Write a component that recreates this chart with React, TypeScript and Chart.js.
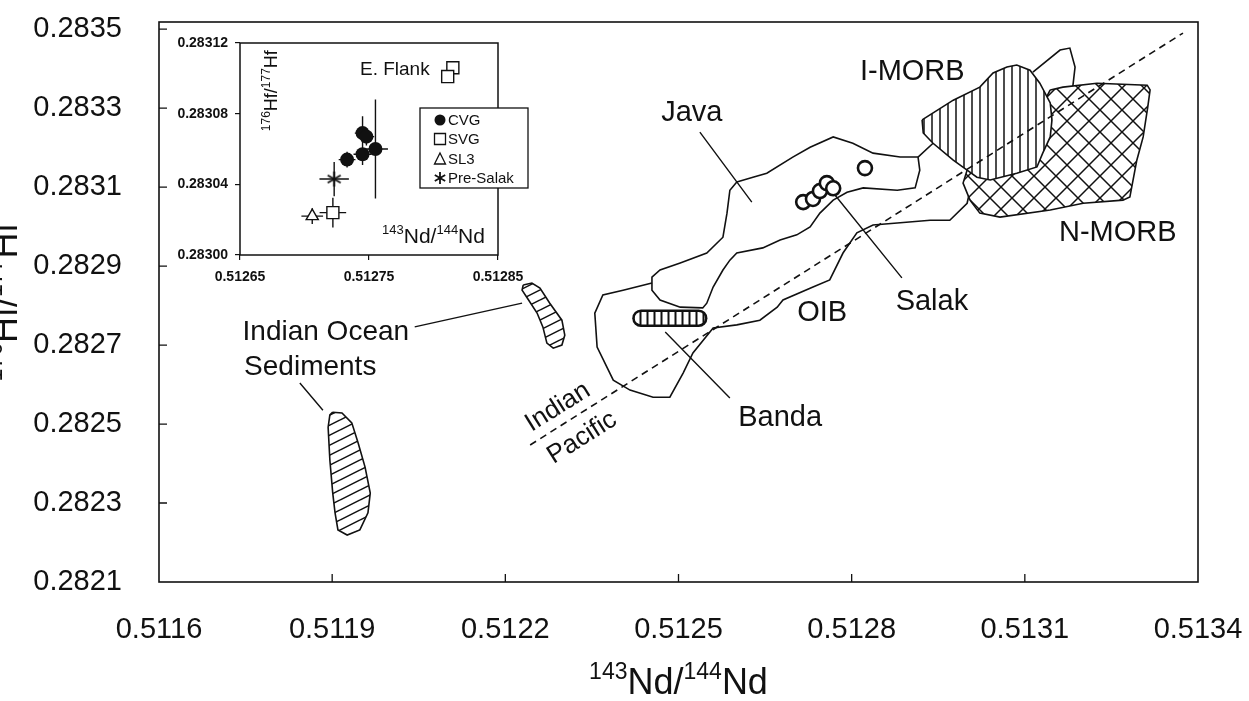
import { useEffect, useRef } from 'react';
import { Chart, registerables } from 'chart.js';

Chart.register(...registerables);

const FONT = '"Liberation Sans", Arial, Helvetica, sans-serif';
const INK = '#111111';

// ---------- main axes ----------
const X_MIN = 0.5116;
const X_MAX = 0.5134;
const Y_MIN = 0.2821;
const Y_MAX = 0.283518;
const X_TICKS = [0.5116, 0.5119, 0.5122, 0.5125, 0.5128, 0.5131, 0.5134];
const Y_TICKS = [0.2821, 0.2823, 0.2825, 0.2827, 0.2829, 0.2831, 0.2833, 0.2835];

// ---------- main fields (143Nd/144Nd , 176Hf/177Hf) ----------
const JAVA_X = [0.512601, 0.512629, 0.512653, 0.512698, 0.512728, 0.512768, 0.512802, 0.512837, 0.512884, 0.512915, 0.512918, 0.51291, 0.512879, 0.51282, 0.512792, 0.512768, 0.512745, 0.512728, 0.512705, 0.512676, 0.512646, 0.512601, 0.512589, 0.512577, 0.51256, 0.512549, 0.512542, 0.512503, 0.512468, 0.512454, 0.512454, 0.512468, 0.512503, 0.512549, 0.512577, 0.512584, 0.512589, 0.512601];
const JAVA_Y = [0.283113, 0.283125, 0.283135, 0.283176, 0.283201, 0.283227, 0.283211, 0.283186, 0.283176, 0.283176, 0.283143, 0.283098, 0.283092, 0.283098, 0.283087, 0.283067, 0.283034, 0.282999, 0.282979, 0.282966, 0.282946, 0.282933, 0.282915, 0.28289, 0.282847, 0.282806, 0.282794, 0.282796, 0.282814, 0.282839, 0.282872, 0.28289, 0.282908, 0.282933, 0.282973, 0.283034, 0.283092, 0.283113];

const OIB_X = [0.512454, 0.512404, 0.512369, 0.512355, 0.512359, 0.512387, 0.512416, 0.512456, 0.512485, 0.512508, 0.512525, 0.51256, 0.512601, 0.512641, 0.512671, 0.512681, 0.512733, 0.512762, 0.512785, 0.512809, 0.512837, 0.512879, 0.512936, 0.51297, 0.513, 0.513005, null, 0.513114, 0.513161, 0.513178, 0.513187, 0.513183, null, 0.512915, 0.512941];
const OIB_Y = [0.282857, 0.282839, 0.282827, 0.282781, 0.282695, 0.282611, 0.282586, 0.282568, 0.282568, 0.282629, 0.28268, 0.282743, 0.282751, 0.282763, 0.282796, 0.282814, 0.282847, 0.282865, 0.282933, 0.282984, 0.283004, 0.283009, 0.283016, 0.283016, 0.283059, 0.283092, null, 0.283391, 0.283447, 0.283452, 0.283404, 0.283353, null, 0.283176, 0.283211];

const IMORB_X = [0.512922, 0.512976, 0.513022, 0.513045, 0.513069, 0.513086, 0.513109, 0.513126, 0.513144, 0.513147, 0.513144, 0.513131, 0.513121, 0.513086, 0.51304, 0.513017, 0.513, 0.512976, 0.512941, 0.512924, 0.512922];
const IMORB_Y = [0.28327, 0.28332, 0.283353, 0.283389, 0.283404, 0.283409, 0.283396, 0.283363, 0.283313, 0.28327, 0.283227, 0.283186, 0.283151, 0.283135, 0.283118, 0.283125, 0.283143, 0.283168, 0.283211, 0.283237, 0.28327];

const NMORB_X = [0.513144, 0.513166, 0.513225, 0.513312, 0.513317, 0.513313, 0.513305, 0.513294, 0.513282, 0.51327, 0.513201, 0.513144, 0.513057, 0.513022, 0.513005, 0.512993, 0.513, 0.513057, 0.513126, 0.513144];
const NMORB_Y = [0.283346, 0.283353, 0.283363, 0.283358, 0.283346, 0.283303, 0.283227, 0.283168, 0.283075, 0.283067, 0.283059, 0.283042, 0.283024, 0.283034, 0.283067, 0.28311, 0.283143, 0.283219, 0.283295, 0.283346];

const IOS1_X = [0.511901, 0.511917, 0.511934, 0.511945, 0.511957, 0.511966, 0.511962, 0.511948, 0.511926, 0.51191, 0.511905, 0.511901, 0.511896, 0.511893, 0.511896, 0.511901];
const IOS1_Y = [0.28253, 0.282528, 0.282503, 0.282452, 0.282391, 0.282325, 0.282275, 0.282232, 0.282219, 0.282232, 0.282275, 0.282325, 0.282409, 0.282492, 0.282523, 0.28253];

const IOS2_X = [0.512231, 0.512246, 0.51226, 0.512277, 0.512298, 0.512303, 0.512298, 0.512283, 0.512272, 0.512265, 0.512255, 0.512238, 0.512229, 0.512231];
const IOS2_Y = [0.282852, 0.282857, 0.282844, 0.282806, 0.282763, 0.282725, 0.2827, 0.282692, 0.282705, 0.282746, 0.282781, 0.282819, 0.282839, 0.282852];

const BANDA_X = [0.512435, 0.512535];
const BANDA_Y = [0.282768, 0.282768];

const SALAK_X = [0.512716, 0.512733, 0.512745, 0.512757, 0.512768, 0.512823];
const SALAK_Y = [0.283062, 0.28307, 0.28309, 0.28311, 0.283097, 0.283148];

const DIVIDE_X = [0.512243, 0.513374];
const DIVIDE_Y = [0.282447, 0.28349];

const LEADER_X = [0.512537, 0.512627, null, 0.512771, 0.512887, null, 0.512477, 0.512589, null, 0.512043, 0.512229, null, 0.511844, 0.511884];
const LEADER_Y = [0.283239, 0.283062, null, 0.28308, 0.28287, null, 0.282733, 0.282566, null, 0.282746, 0.282806, null, 0.282604, 0.282535];

const LABEL_TEXT = ['Java', 'I-MORB', 'N-MORB', 'Salak', 'OIB', 'Banda', 'Indian Ocean', 'Sediments', 'Indian', 'Pacific'];
const LABEL_X = [0.512523, 0.512905, 0.513261, 0.512939, 0.512749, 0.512676, 0.511889, 0.511862, 0.512291, 0.512333];
const LABEL_Y = [0.283287, 0.283391, 0.282984, 0.282809, 0.282781, 0.282515, 0.282733, 0.282644, 0.282543, 0.282465];

// ---------- inset ----------
const INSET_X_TICKS = [0.51265, 0.51275, 0.51285];
const INSET_Y_TICKS = [0.283, 0.28304, 0.28308, 0.28312];

const CVG_X = [0.512733, 0.512745, 0.512748, 0.512745, 0.512755];
const CVG_Y = [0.283054, 0.283069, 0.283067, 0.283057, 0.28306];
const CVG_XERR = [0.0000065, 0.000006, 0.000006, 0.000007, 0.0000097];
const CVG_YERR = [0.0000045, 0.0000095, 0.000005, 0.000006, 0.000028];

const SVG_X = [0.512722, 0.512815, 0.512811];
const SVG_Y = [0.283024, 0.283106, 0.283101];
const SVG_XERR = [0.0000103, 0.0000045, 0.0000045];
const SVG_YERR = [0.0000084, 0.000003, 0.000003];

const SL3_X = [0.512706];
const SL3_Y = [0.283022];
const SL3_XERR = [0.0000084];
const SL3_YERR = [0.0000045];

const PRE_X = [0.512723];
const PRE_Y = [0.283043];
const PRE_XERR = [0.0000114];
const PRE_YERR = [0.0000097];

const LEGEND_NAMES = ['CVG', 'SVG', 'SL3', 'Pre-Salak'];

// ---------- helpers ----------
const toPts = (xs: any[], ys: any[]) => xs.map((x, i) => ({ x: x === null ? null : x, y: ys[i] === null ? null : ys[i] }));

function errorBars(xs: number[], ys: number[], ex: number[], ey: number[]) {
  const out: any[] = [];
  xs.forEach((x, i) => {
    out.push({ x: x - ex[i], y: ys[i] }, { x: x + ex[i], y: ys[i] }, { x: null, y: null });
    out.push({ x, y: ys[i] - ey[i] }, { x, y: ys[i] + ey[i] }, { x: null, y: null });
  });
  return out;
}

function tile(w: number, h: number, draw: (g: CanvasRenderingContext2D) => void) {
  const c = document.createElement('canvas');
  c.width = w;
  c.height = h;
  const g = c.getContext('2d')!;
  g.fillStyle = '#ffffff';
  g.fillRect(0, 0, w, h);
  g.strokeStyle = INK;
  draw(g);
  return g.createPattern(c, 'repeat');
}

function hatchVertical(sp: number, lw: number) {
  return tile(sp, sp, (g) => {
    g.lineWidth = lw;
    g.beginPath();
    g.moveTo(sp / 2, 0);
    g.lineTo(sp / 2, sp);
    g.stroke();
  });
}

function hatchCross(s: number, lw: number) {
  return tile(s, s, (g) => {
    g.lineWidth = lw;
    g.beginPath();
    for (const o of [-s, 0, s]) {
      g.moveTo(o, 0);
      g.lineTo(o + s, s);
      g.moveTo(o + s, 0);
      g.lineTo(o, s);
    }
    g.stroke();
  });
}

function hatchDiag(w: number, h: number, lw: number) {
  return tile(w, h, (g) => {
    g.lineWidth = lw;
    g.beginPath();
    for (const o of [-h, 0, h]) {
      g.moveTo(0, h + o);
      g.lineTo(w, o);
    }
    g.stroke();
  });
}

function asteriskCanvas(size: number, lw: number) {
  const c = document.createElement('canvas');
  c.width = size;
  c.height = size;
  const g = c.getContext('2d')!;
  g.strokeStyle = INK;
  g.lineWidth = lw;
  const r = size / 2 - 1;
  const m = size / 2;
  g.beginPath();
  for (const a of [90, 30, 150]) {
    const rad = (a * Math.PI) / 180;
    g.moveTo(m - r * Math.cos(rad), m - r * Math.sin(rad));
    g.lineTo(m + r * Math.cos(rad), m + r * Math.sin(rad));
  }
  g.stroke();
  return c;
}

function drawSup(ctx: CanvasRenderingContext2D, parts: [string, boolean][], x: number, y: number, size: number) {
  const sup = Math.round(size * 0.64);
  let w = 0;
  for (const [t, s] of parts) {
    ctx.font = `${s ? sup : size}px ${FONT}`;
    w += ctx.measureText(t).width;
  }
  let cx = x - w / 2;
  ctx.textAlign = 'left';
  ctx.textBaseline = 'alphabetic';
  for (const [t, s] of parts) {
    ctx.font = `${s ? sup : size}px ${FONT}`;
    ctx.fillText(t, cx, s ? y - size * 0.42 : y);
    cx += ctx.measureText(t).width;
  }
}

const ND_TITLE: [string, boolean][] = [['143', true], ['Nd/', false], ['144', true], ['Nd', false]];
const HF_TITLE: [string, boolean][] = [['176', true], ['Hf/', false], ['177', true], ['Hf', false]];

const mainDecor = {
  id: 'mainDecor',
  afterDatasetsDraw(chart: any) {
    const { ctx, scales } = chart;
    ctx.save();
    ctx.fillStyle = INK;
    LABEL_TEXT.forEach((t, i) => {
      const px = scales.x.getPixelForValue(LABEL_X[i]);
      const py = scales.y.getPixelForValue(LABEL_Y[i]);
      let size = 29;
      if (i === 6 || i === 7) size = 28;
      if (i >= 8) size = 26;
      ctx.font = `${size}px ${FONT}`;
      ctx.textAlign = 'center';
      ctx.textBaseline = 'middle';
      ctx.save();
      ctx.translate(px, py);
      if (i >= 8) ctx.rotate((-32 * Math.PI) / 180);
      ctx.fillText(t, 0, 0);
      ctx.restore();
    });
    ctx.restore();
  },
  afterDraw(chart: any) {
    const { ctx, chartArea: a, scales } = chart;
    ctx.save();
    ctx.strokeStyle = INK;
    ctx.lineWidth = 1.6;
    ctx.strokeRect(a.left, a.top, a.right - a.left, a.bottom - a.top);
    ctx.lineWidth = 1.3;
    ctx.beginPath();
    X_TICKS.slice(1, -1).forEach((v) => {
      const px = scales.x.getPixelForValue(v);
      ctx.moveTo(px, a.bottom);
      ctx.lineTo(px, a.bottom - 8);
    });
    Y_TICKS.slice(1).forEach((v) => {
      const py = scales.y.getPixelForValue(v);
      ctx.moveTo(a.left, py);
      ctx.lineTo(a.left + 8, py);
    });
    ctx.stroke();
    ctx.fillStyle = INK;
    drawSup(ctx, ND_TITLE, (a.left + a.right) / 2, a.bottom + 112, 36);
    ctx.translate(17, (a.top + a.bottom) / 2);
    ctx.rotate(-Math.PI / 2);
    drawSup(ctx, HF_TITLE, 0, 0, 36);
    ctx.restore();
  },
};

const insetDecor = {
  id: 'insetDecor',
  afterDraw(chart: any) {
    const { ctx, chartArea: a, scales } = chart;
    ctx.save();
    ctx.strokeStyle = INK;
    ctx.lineWidth = 1.5;
    ctx.strokeRect(a.left, a.top, a.right - a.left, a.bottom - a.top);
    ctx.fillStyle = INK;
    // titles
    drawSup(ctx, ND_TITLE, scales.x.getPixelForValue(0.5128), scales.y.getPixelForValue(0.283007), 21);
    ctx.font = `19px ${FONT}`;
    ctx.textAlign = 'center';
    ctx.textBaseline = 'middle';
    ctx.fillText('E. Flank', scales.x.getPixelForValue(0.51277), scales.y.getPixelForValue(0.283105));
    ctx.save();
    ctx.translate(scales.x.getPixelForValue(0.512679), scales.y.getPixelForValue(0.283093));
    ctx.rotate(-Math.PI / 2);
    drawSup(ctx, HF_TITLE, 0, 0, 18);
    ctx.restore();
    // legend
    const bx = a.left + 180;
    const by = a.top + 65;
    const bw = 108;
    const bh = 80;
    ctx.fillStyle = '#ffffff';
    ctx.fillRect(bx, by, bw, bh);
    ctx.strokeStyle = INK;
    ctx.lineWidth = 1.3;
    ctx.strokeRect(bx, by, bw, bh);
    const rows = [12, 31, 51, 70];
    const mx = bx + 20;
    rows.forEach((ry, i) => {
      const y = by + ry;
      ctx.beginPath();
      ctx.lineWidth = 1.3;
      ctx.strokeStyle = INK;
      ctx.fillStyle = INK;
      if (i === 0) {
        ctx.arc(mx, y, 5.5, 0, Math.PI * 2);
        ctx.fill();
      } else if (i === 1) {
        ctx.rect(mx - 5.5, y - 5.5, 11, 11);
        ctx.stroke();
      } else if (i === 2) {
        ctx.moveTo(mx, y - 6);
        ctx.lineTo(mx + 5.5, y + 5);
        ctx.lineTo(mx - 5.5, y + 5);
        ctx.closePath();
        ctx.stroke();
      } else {
        ctx.lineWidth = 1.8;
        for (const ang of [90, 30, 150]) {
          const rad = (ang * Math.PI) / 180;
          ctx.moveTo(mx - 6 * Math.cos(rad), y - 6 * Math.sin(rad));
          ctx.lineTo(mx + 6 * Math.cos(rad), y + 6 * Math.sin(rad));
        }
        ctx.stroke();
      }
      ctx.fillStyle = INK;
      ctx.font = `15px ${FONT}`;
      ctx.textAlign = 'left';
      ctx.textBaseline = 'middle';
      ctx.fillText(LEGEND_NAMES[i], mx + 8, y + 1);
    });
    ctx.restore();
  },
};

export default function App() {
  const mainRef = useRef<HTMLCanvasElement>(null);
  const insetRef = useRef<HTMLCanvasElement>(null);

  useEffect(() => {
    const patV = hatchVertical(8, 1.5);
    const patB = hatchVertical(7, 2);
    const patX = hatchCross(22, 1.5);
    const patD = hatchDiag(20, 10, 1.5);

    const base = {
      pointRadius: 0,
      pointHoverRadius: 0,
      borderColor: INK,
      borderWidth: 1.6,
      fill: false,
      tension: 0,
      spanGaps: false,
      showLine: true,
    };

    const tickFont = { family: FONT, size: 29 };

    const main = new Chart(mainRef.current as HTMLCanvasElement, {
      type: 'line',
      data: {
        datasets: [
          { ...base, data: toPts(DIVIDE_X, DIVIDE_Y), borderDash: [7, 5], borderWidth: 1.6, order: 0 },
          {
            data: toPts(SALAK_X, SALAK_Y),
            showLine: false,
            pointRadius: 7,
            pointHoverRadius: 7,
            pointBorderWidth: 2.6,
            pointBackgroundColor: '#ffffff',
            pointBorderColor: INK,
            order: 1,
          },
          { ...base, data: toPts(LEADER_X, LEADER_Y), borderWidth: 1.4, order: 2 },
          { ...base, data: toPts(IMORB_X, IMORB_Y), fill: 'shape', backgroundColor: patV, order: 3 },
          { ...base, data: toPts(NMORB_X, NMORB_Y), fill: 'shape', backgroundColor: patX, order: 4 },
          { ...base, data: toPts(OIB_X, OIB_Y), order: 5 },
          { ...base, data: toPts(JAVA_X, JAVA_Y), order: 6 },
          { ...base, data: toPts(IOS1_X, IOS1_Y), fill: 'shape', backgroundColor: patD, order: 7 },
          { ...base, data: toPts(IOS2_X, IOS2_Y), fill: 'shape', backgroundColor: patD, order: 7 },
          { ...base, data: toPts(BANDA_X, BANDA_Y), borderWidth: 12.5, borderColor: patB, borderCapStyle: 'round', order: 8 },
          { ...base, data: toPts(BANDA_X, BANDA_Y), borderWidth: 17.5, borderColor: INK, borderCapStyle: 'round', order: 9 },
        ] as any,
      },
      options: {
        responsive: false,
        devicePixelRatio: 1,
        animation: false,
        events: [],
        layout: { padding: { left: 0, top: 22, right: 51, bottom: 0 } },
        plugins: { legend: { display: false }, tooltip: { enabled: false } },
        scales: {
          x: {
            type: 'linear',
            min: X_MIN,
            max: X_MAX,
            afterBuildTicks: (s: any) => {
              s.ticks = X_TICKS.map((v) => ({ value: v }));
            },
            afterFit: (s: any) => {
              s.height = 119;
              s.paddingLeft = 0;
              s.paddingRight = 0;
            },
            grid: { display: false },
            border: { display: false },
            ticks: {
              padding: 23,
              maxRotation: 0,
              autoSkip: false,
              color: INK,
              font: tickFont,
              callback: (v: any) => Number(v).toFixed(4),
            },
          },
          y: {
            type: 'linear',
            min: Y_MIN,
            max: Y_MAX,
            afterBuildTicks: (s: any) => {
              s.ticks = Y_TICKS.map((v) => ({ value: v }));
            },
            afterFit: (s: any) => {
              s.width = 159;
              s.paddingTop = 0;
              s.paddingBottom = 0;
            },
            grid: { display: false },
            border: { display: false },
            ticks: {
              padding: 29,
              autoSkip: false,
              color: INK,
              font: tickFont,
              callback: (v: any) => Number(v).toFixed(4),
            },
          },
        },
      } as any,
      plugins: [mainDecor],
    });

    const star = asteriskCanvas(17, 1.8);
    const insetFont = { family: FONT, size: 14, weight: 'bold' };

    const inset = new Chart(insetRef.current as HTMLCanvasElement, {
      type: 'line',
      data: {
        datasets: [
          {
            ...base,
            data: [
              ...errorBars(CVG_X, CVG_Y, CVG_XERR, CVG_YERR),
              ...errorBars(SVG_X, SVG_Y, SVG_XERR, SVG_YERR),
              ...errorBars(SL3_X, SL3_Y, SL3_XERR, SL3_YERR),
              ...errorBars(PRE_X, PRE_Y, PRE_XERR, PRE_YERR),
            ],
            borderWidth: 1.4,
            order: 5,
          },
          {
            data: toPts(SVG_X, SVG_Y),
            showLine: false,
            pointStyle: 'rect',
            pointRadius: 8.5,
            pointHoverRadius: 8.5,
            pointBorderWidth: 1.4,
            pointBackgroundColor: '#ffffff',
            pointBorderColor: INK,
            order: 3,
          },
          {
            data: toPts(SL3_X, SL3_Y),
            showLine: false,
            pointStyle: 'triangle',
            pointRadius: 7,
            pointHoverRadius: 7,
            pointBorderWidth: 1.4,
            pointBackgroundColor: '#ffffff',
            pointBorderColor: INK,
            order: 3,
          },
          {
            data: toPts(PRE_X, PRE_Y),
            showLine: false,
            pointStyle: star,
            pointRadius: 8,
            pointHoverRadius: 8,
            order: 2,
          },
          {
            data: toPts(CVG_X, CVG_Y),
            showLine: false,
            pointStyle: 'circle',
            pointRadius: 7,
            pointHoverRadius: 7,
            pointBorderWidth: 0,
            pointBackgroundColor: INK,
            pointBorderColor: INK,
            order: 1,
          },
        ] as any,
      },
      options: {
        responsive: false,
        devicePixelRatio: 1,
        animation: false,
        events: [],
        layout: { padding: { left: 0, top: 19, right: 42, bottom: 0 } },
        plugins: { legend: { display: false }, tooltip: { enabled: false } },
        scales: {
          x: {
            type: 'linear',
            min: 0.51265,
            max: 0.51285,
            afterBuildTicks: (s: any) => {
              s.ticks = INSET_X_TICKS.map((v) => ({ value: v }));
            },
            afterFit: (s: any) => {
              s.height = 31;
              s.paddingLeft = 0;
              s.paddingRight = 0;
            },
            grid: { display: true, drawOnChartArea: false, drawTicks: true, tickLength: 5, color: INK, lineWidth: 1.2 },
            border: { display: false },
            ticks: {
              padding: 9,
              maxRotation: 0,
              autoSkip: false,
              color: INK,
              font: insetFont,
              callback: (v: any) => Number(v).toFixed(5),
            },
          },
          y: {
            type: 'linear',
            min: 0.283,
            max: 0.28312,
            afterBuildTicks: (s: any) => {
              s.ticks = INSET_Y_TICKS.map((v) => ({ value: v }));
            },
            afterFit: (s: any) => {
              s.width = 80;
              s.paddingTop = 0;
              s.paddingBottom = 0;
            },
            grid: { display: true, drawOnChartArea: false, drawTicks: true, tickLength: 5, color: INK, lineWidth: 1.2 },
            border: { display: false },
            ticks: {
              padding: 7,
              autoSkip: false,
              color: INK,
              font: insetFont,
              callback: (v: any) => Number(v).toFixed(5),
            },
          },
        },
      } as any,
      plugins: [insetDecor],
    });

    return () => {
      main.destroy();
      inset.destroy();
    };
  }, []);

  return (
    <div style={{ position: 'fixed', left: 0, top: 0, width: 1249, height: 701, background: '#ffffff', overflow: 'hidden' }}>
      <canvas ref={mainRef} width={1249} height={701} style={{ position: 'absolute', left: 0, top: 0 }} />
      <canvas ref={insetRef} width={380} height={262} style={{ position: 'absolute', left: 160, top: 24 }} />
    </div>
  );
}
